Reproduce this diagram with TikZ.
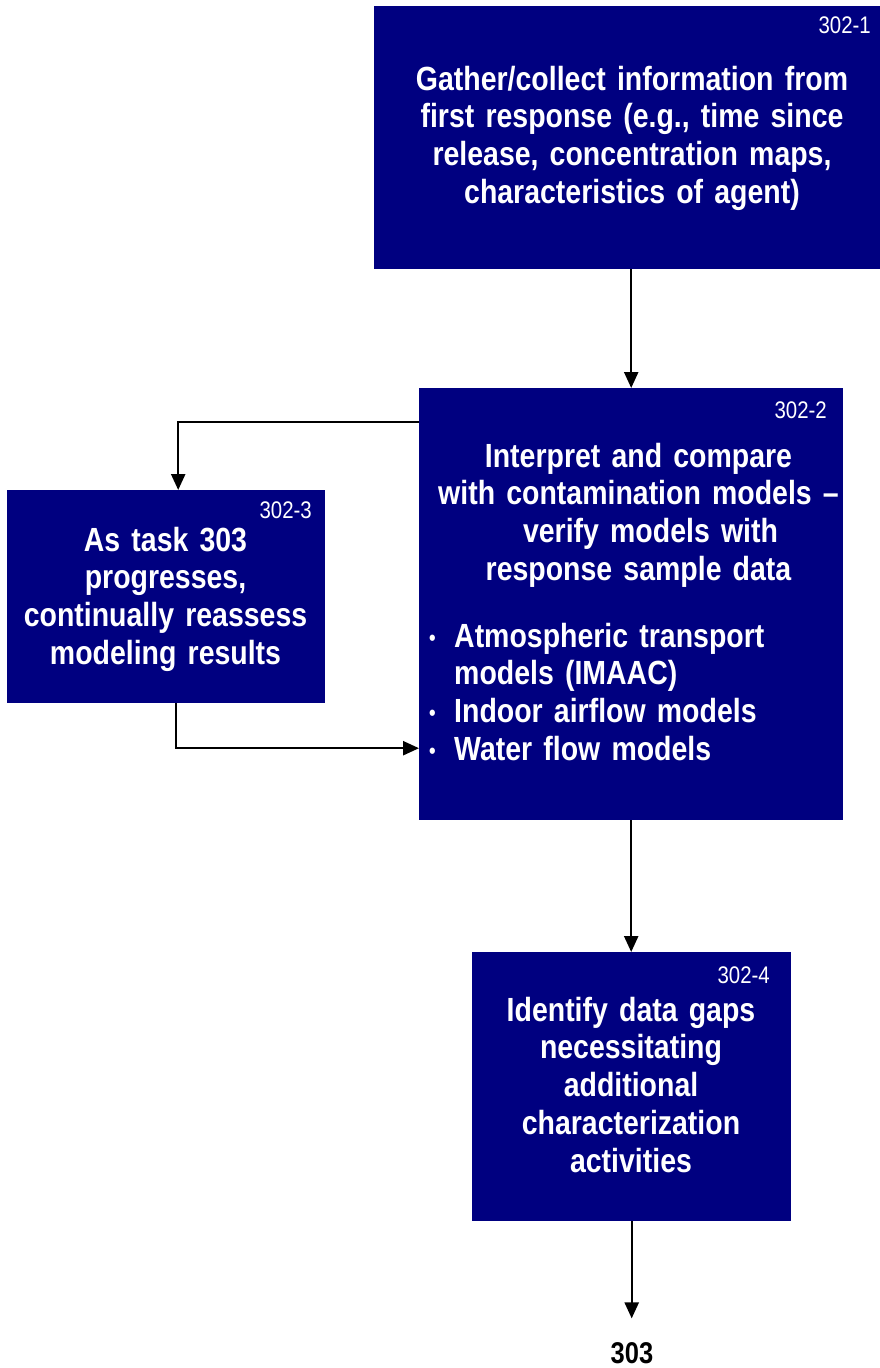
\documentclass[tikz,border=0pt]{standalone}
\usepackage{fontspec}
\setmainfont{Liberation Sans}[FakeStretch=0.85,WordSpace=0.65]
\usetikzlibrary{arrows.meta}
\definecolor{navybox}{HTML}{000080}
\newcommand{\dotitem}{\makebox[28pt][l]{\hspace{3pt}\raisebox{2pt}{\fontsize{22}{22}\selectfont\textbullet}}}
\begin{document}
\begin{tikzpicture}[x=1pt,y=-1pt,
  box/.style={draw=none,fill=navybox,inner sep=0pt,anchor=north west},
  boxtext/.style={text=white,anchor=base,inner sep=0pt,align=center,text width=#1,
    font=\fontsize{33.5}{37.8}\selectfont\bfseries},
  tag/.style={text=white,anchor=base east,inner sep=0pt,font=\fontsize{24}{24}\selectfont},
  arr/.style={line width=2.4pt,-{Triangle[length=16pt,width=14pt]}}]
\useasboundingbox (0,0) rectangle (880,1368);

% boxes
\node[box,minimum width=506pt,minimum height=263pt] (box1) at (374,6) {};
\node[box,minimum width=424pt,minimum height=432pt] (box2) at (419,388) {};
\node[box,minimum width=318pt,minimum height=213pt] (box3) at (7,490) {};
\node[box,minimum width=319pt,minimum height=269pt] (box4) at (472,952) {};

% step numbers
\node[tag] (tag1) at (871,33) {302-1};
\node[tag] (tag2) at (827,418) {302-2};
\node[tag] (tag3) at (312,518) {302-3};
\node[tag] (tag4) at (770,983) {302-4};

% box texts
\node[boxtext=480pt] (text1) at (632,90)
  {Gather/collect information from\\first response (e.g., time since\\release, concentration maps,\\characteristics of agent)};
\node[boxtext=420pt] (text2) at (638.5,467)
  {Interpret and compare\\with contamination models --\\\hspace*{24pt}verify models with\\response sample data};
\node[boxtext=380pt,align=left,anchor=base west] (list2) at (426,647)
  {\dotitem Atmospheric transport\\
   \hspace*{28pt}models (IMAAC)\\
   \dotitem Indoor airflow models\\
   \dotitem Water flow models};
\node[boxtext=300pt] (text3) at (165.5,551)
  {As task 303\\progresses,\\continually reassess\\modeling results};
\node[boxtext=310pt] (text4) at (631,1021)
  {Identify data gaps\\necessitating\\additional\\characterization\\activities};

% next task
\coordinate (end4) at ([yshift=-97pt]box4.south);
\node[anchor=base,inner sep=0pt,font=\fontsize{30}{30}\selectfont\bfseries] (next) at (632,1363) {303};

% connectors
\draw[arr] (box1.south -| box2.north) -- (box2.north);
\draw[arr] ([yshift=-34pt]box2.north west) -| ([xshift=12pt]box3.north);
\draw[arr] ([xshift=10pt]box3.south) |- ([yshift=-144pt]box2.west);
\draw[arr] (box2.south) -- (box2.south |- box4.north);
\draw[arr] (box4.south) -- (end4);
\end{tikzpicture}
\end{document}
